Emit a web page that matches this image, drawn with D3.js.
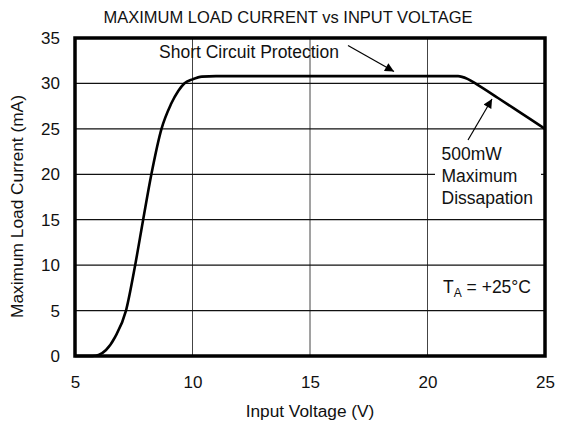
<!DOCTYPE html>
<html><head><meta charset="utf-8">
<script src="https://cdn.jsdelivr.net/npm/d3@7"></script>
<style>body{margin:0;background:#fff}svg{display:block}text{font-family:"Liberation Sans",Arial,sans-serif;fill:#111}</style>
</head><body><svg id="c" width="562" height="426"></svg>
<script>
const voltage = [5, 5.5, 5.75, 6.03, 6.32, 6.71, 7.17, 7.56, 7.9, 8.25, 8.68, 9.08, 9.4, 9.65, 10.0, 10.4, 11, 15, 20, 21.3, 21.7, 22.1, 23, 24, 25];
const current = [0, 0, 0, 0.15, 0.66, 2.1, 5, 10, 15, 20, 25, 27.7, 29.2, 30, 30.45, 30.75, 30.8, 30.8, 30.8, 30.8, 30.5, 29.9, 28.4, 26.7, 25];
const xTicks = [5, 10, 15, 20, 25];
const yTicks = [0, 5, 10, 15, 20, 25, 30, 35];

const svg = d3.select("#c");
const L = 75, R = 545, T = 38, B = 356;
const x = d3.scaleLinear().domain([5, 25]).range([L, R]);
const y = d3.scaleLinear().domain([0, 35]).range([B, T]);
const FONT = "Liberation Sans, Arial, sans-serif";

// grid
svg.append("g").selectAll("line").data(xTicks.slice(1, -1)).join("line")
  .attr("x1", d => x(d)).attr("x2", d => x(d)).attr("y1", T).attr("y2", B)
  .attr("stroke", "#444").attr("stroke-width", 1);
svg.append("g").selectAll("line").data(yTicks.slice(1, -1)).join("line")
  .attr("x1", L).attr("x2", R).attr("y1", d => y(d)).attr("y2", d => y(d))
  .attr("stroke", "#111").attr("stroke-width", 1.2);

// axes labels
const xa = d3.axisBottom(x).tickValues(xTicks).tickSize(0).tickPadding(20);
svg.append("g").attr("transform", `translate(0,${B})`).call(xa)
  .call(g => g.select(".domain").remove())
  .selectAll("text").attr("font-size", 17).attr("font-family", FONT).attr("fill", "#111");
const ya = d3.axisLeft(y).tickValues(yTicks).tickSize(0).tickPadding(15);
svg.append("g").attr("transform", `translate(${L},0)`).call(ya)
  .call(g => g.select(".domain").remove())
  .selectAll("text").attr("font-size", 17).attr("font-family", FONT).attr("fill", "#111");

// annotation background for dissipation label
svg.append("rect").attr("x", 435).attr("y", 142).attr("width", 106).attr("height", 68).attr("fill", "#fff");

// curve
const pts = voltage.map((v, i) => [v, current[i]]);
svg.append("path").datum(pts)
  .attr("d", d3.line().x(d => x(d[0])).y(d => y(d[1])).curve(d3.curveMonotoneX))
  .attr("fill", "none").attr("stroke", "#000").attr("stroke-width", 2.6);

// frame
svg.append("rect").attr("x", L).attr("y", T).attr("width", R - L).attr("height", B - T)
  .attr("fill", "none").attr("stroke", "#000").attr("stroke-width", 3.5);

// arrows
const defs = svg.append("defs");
defs.append("marker").attr("id", "ah").attr("viewBox", "0 0 10 10").attr("refX", 10).attr("refY", 5)
  .attr("markerWidth", 14).attr("markerHeight", 9).attr("markerUnits", "userSpaceOnUse").attr("orient", "auto")
  .append("path").attr("d", "M0,0 L10,5 L0,10 Z").attr("fill", "#000");
svg.append("line").attr("x1", 348).attr("y1", 45.5).attr("x2", 394).attr("y2", 71.5)
  .attr("stroke", "#000").attr("stroke-width", 1.2).attr("marker-end", "url(#ah)");
svg.append("line").attr("x1", 468).attr("y1", 140).attr("x2", 492).attr("y2", 99)
  .attr("stroke", "#000").attr("stroke-width", 1.2).attr("marker-end", "url(#ah)");

// texts
svg.append("text").attr("x", 288).attr("y", 23).attr("text-anchor", "middle").attr("font-size", 16.5)
  .text("MAXIMUM LOAD CURRENT vs INPUT VOLTAGE");
svg.append("text").attr("x", 159).attr("y", 57.7).attr("font-size", 17.5).text("Short Circuit Protection");
const dl = ["500mW", "Maximum", "Dissapation"];
svg.append("g").selectAll("text").data(dl).join("text")
  .attr("x", 441.5).attr("y", (d, i) => 160 + i * 22).attr("font-size", 17.5).text(d => d);
const ta = svg.append("text").attr("x", 443).attr("y", 293.3).attr("font-size", 17.5);
ta.append("tspan").text("T");
ta.append("tspan").attr("font-size", 12).attr("dy", 4).text("A");
ta.append("tspan").attr("dy", -4).text(" = +25°C");
svg.append("text").attr("x", 310).attr("y", 417).attr("text-anchor", "middle").attr("font-size", 17.3)
  .text("Input Voltage (V)");
svg.append("text").attr("transform", "translate(23,206.5) rotate(-90)").attr("text-anchor", "middle").attr("font-size", 17.3)
  .text("Maximum Load Current (mA)");
</script></body></html>
